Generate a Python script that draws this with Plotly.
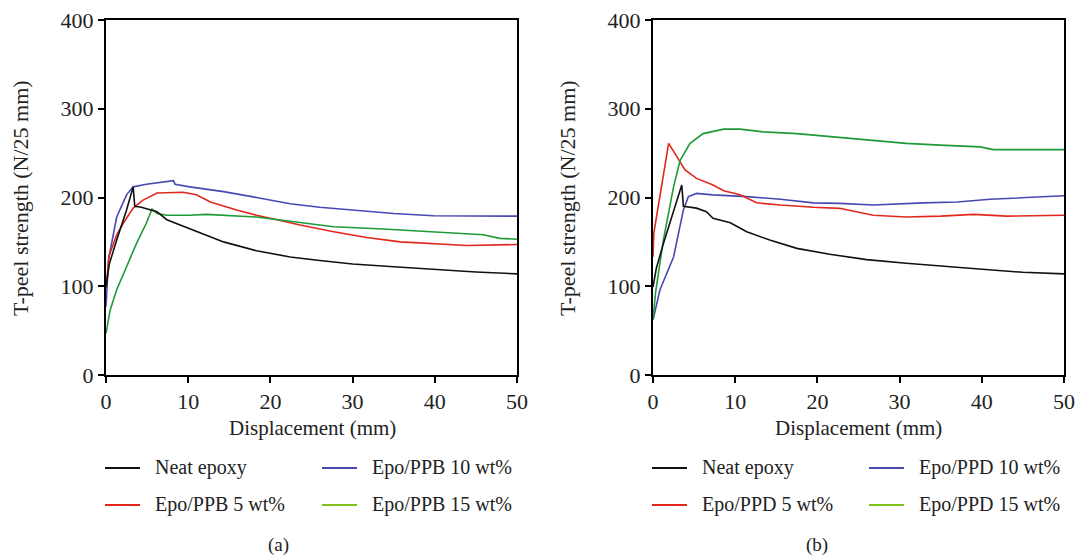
import plotly.graph_objects as go

# ---------------- data ----------------
# (a) PPB series
a_neat_x = [0, 0.4, 1.3, 2.5, 3.3, 3.5, 4.3, 6.2, 7.4, 10.2, 14.3, 18.3, 22.4, 26, 30, 35, 40, 45, 50]
a_neat_y = [99, 125, 152, 186, 212, 190, 189, 184, 175, 165, 150, 140, 133, 129, 125, 122, 119, 116, 114]

a_5_x = [0, 0.4, 1.3, 2.1, 3.3, 4.5, 6.2, 9.4, 11, 12.7, 15.9, 18.3, 20.8, 23.6, 27.7, 31.7, 35.8, 40, 43.9, 50]
a_5_y = [99, 135, 158, 171, 188, 197, 205, 206, 203, 195, 186, 180, 175, 169, 161.5, 155, 150, 148, 146, 147]

a_10_x = [0, 0.3, 1.3, 2.5, 3.3, 4.9, 8.2, 8.4, 10.2, 14.3, 18.3, 22.4, 26, 31.7, 35, 39.8, 45, 50]
a_10_y = [77, 130, 178, 203, 212, 215, 219, 215, 212, 206.6, 200, 193, 189, 185, 182, 179.5, 179, 179]

a_15_x = [0, 0.5, 1.3, 2.5, 3.7, 4.9, 5.6, 6.2, 7.4, 10.2, 12.2, 18.3, 22.4, 27.7, 33.7, 39.8, 45.9, 47.9, 50]
a_15_y = [47, 73, 96, 122, 148, 171, 187, 182, 180, 180, 181, 178, 173, 167, 164.5, 161.5, 158, 154, 153]

# (b) PPD series
b_neat_x = [0, 0.4, 1.26, 2.5, 3.5, 3.7, 5.3, 6.5, 7.3, 9.4, 11.4, 14.2, 17.5, 21.5, 26, 30.8, 35, 38.9, 45, 50]
b_neat_y = [99, 120, 148, 186, 214, 190, 188, 184, 176.5, 171.6, 161.5, 152, 142.7, 136, 130, 126, 122.5, 120, 115.7, 114]

b_5_x = [0, 0.1, 1.9, 2.9, 3.9, 5.3, 7.3, 8.6, 10.6, 12.6, 15.5, 19.5, 22.7, 26.8, 30.8, 35, 39, 43, 50]
b_5_y = [133, 160, 261, 246, 231, 221.5, 214, 207.7, 203, 194, 191.5, 189, 187.8, 180, 178, 179, 181, 179, 180]

b_10_x = [0, 0.85, 2.5, 3.7, 4.3, 5.3, 7.3, 11.4, 15.5, 19.5, 22.7, 26.8, 32.9, 37, 41, 46.3, 50]
b_10_y = [62, 96, 133, 186, 201, 204.6, 203, 201, 198, 194, 193.4, 191.5, 194, 195, 198, 200, 202]

b_15_x = [0, 0.3, 1.26, 2.5, 3.3, 4.5, 6.1, 8.6, 10.6, 13.4, 17.5, 22.7, 26.8, 30.8, 34.9, 39.8, 41.4, 50]
b_15_y = [62, 92, 152, 212, 242, 261, 272, 277, 277, 274, 272, 268, 264, 261, 259, 257, 254, 254]

x_ticks = [0, 10, 20, 30, 40, 50]
y_ticks = [0, 100, 200, 300, 400]

labels_a = ["Neat epoxy", "Epo/PPB 5 wt%", "Epo/PPB 10 wt%", "Epo/PPB 15 wt%"]
labels_b = ["Neat epoxy", "Epo/PPD 5 wt%", "Epo/PPD 10 wt%", "Epo/PPD 15 wt%"]

line_colors = ["#111111", "#e2281c", "#4848b4", "#1e9a38"]
legend_colors = ["#111111", "#e2281c", "#4848b4", "#7cc21a"]

FONT = "Liberation Serif"
W, H = 1077, 556

fig = go.Figure()

series_a = [(a_neat_x, a_neat_y), (a_5_x, a_5_y), (a_10_x, a_10_y), (a_15_x, a_15_y)]
series_b = [(b_neat_x, b_neat_y), (b_5_x, b_5_y), (b_10_x, b_10_y), (b_15_x, b_15_y)]

# draw order: blue, red, green, black on top
order = [2, 1, 3, 0]
for i in order:
    x, y = series_a[i]
    fig.add_trace(go.Scatter(x=x, y=y, mode="lines", xaxis="x", yaxis="y",
                             line=dict(color=line_colors[i], width=1.6), name=labels_a[i],
                             showlegend=False))
for i in order:
    x, y = series_b[i]
    fig.add_trace(go.Scatter(x=x, y=y, mode="lines", xaxis="x2", yaxis="y2",
                             line=dict(color=line_colors[i], width=1.6), name=labels_b[i],
                             showlegend=False))

def px_x(p):
    return p / W

def px_y(p):
    return 1 - p / H

axis_common = dict(showline=True, linecolor="black", linewidth=2, mirror=True,
                   ticks="outside", ticklen=6, tickwidth=2, tickcolor="black",
                   showgrid=False, zeroline=False, automargin=False,
                   tickfont=dict(family=FONT, size=22, color="#222"))

dom_a = [px_x(106), px_x(517)]
dom_b = [px_x(653), px_x(1064)]
dom_y = [px_y(375), px_y(20)]

fig.update_layout(
    width=W, height=H,
    margin=dict(l=0, r=0, t=0, b=0, autoexpand=False),
    paper_bgcolor="white", plot_bgcolor="white",
    showlegend=False,
    xaxis=dict(domain=dom_a, range=[0, 50], tickvals=x_ticks, anchor="y", **axis_common),
    yaxis=dict(domain=dom_y, range=[0, 400], tickvals=y_ticks, anchor="x", **axis_common),
    xaxis2=dict(domain=dom_b, range=[0, 50], tickvals=x_ticks, anchor="y2", **axis_common),
    yaxis2=dict(domain=dom_y, range=[0, 400], tickvals=y_ticks, anchor="x2", **axis_common),
)

annotations = []
shapes = []
title_font = dict(family=FONT, size=21, color="#222")
ytitle_font = dict(family=FONT, size=22, color="#222")
leg_font = dict(family=FONT, size=20, color="#222")

for (x0, x_title_c, tag_c, tag) in [(106, 312, 278, "(a)"), (653, 858, 817, "(b)")]:
    labels = labels_a if tag == "(a)" else labels_b
    # y axis title
    annotations.append(dict(text="T-peel strength (N/25 mm)", x=px_x(x0 - 86), y=px_y(198),
                            xref="paper", yref="paper", showarrow=False, textangle=-90,
                            font=ytitle_font, xanchor="center", yanchor="middle"))
    # x axis title
    annotations.append(dict(text="Displacement (mm)", x=px_x(x_title_c), y=px_y(428),
                            xref="paper", yref="paper", showarrow=False,
                            font=title_font, xanchor="center", yanchor="middle"))
    # panel tag
    annotations.append(dict(text=tag, x=px_x(tag_c), y=px_y(545),
                            xref="paper", yref="paper", showarrow=False,
                            font=dict(family=FONT, size=19, color="#222"),
                            xanchor="center", yanchor="middle"))
    # legend
    pos = [(0, 0), (0, 1), (1, 0), (1, 1)]
    for k in range(4):
        col, row = pos[k]
        lx0 = x0 - 1 + col * 217
        ly = 468 + row * 37
        shapes.append(dict(type="line", xref="paper", yref="paper",
                           x0=px_x(lx0), x1=px_x(lx0 + 35), y0=px_y(ly), y1=px_y(ly),
                           line=dict(color=legend_colors[k], width=2)))
        annotations.append(dict(text=labels[k], x=px_x(lx0 + 48), y=px_y(ly - 1),
                                xref="paper", yref="paper", showarrow=False,
                                font=leg_font, xanchor="left", yanchor="middle"))

fig.update_layout(annotations=annotations, shapes=shapes)

fig.write_html("out.html", config={"displayModeBar": False},
               post_script="document.body.style.margin='0px';")
